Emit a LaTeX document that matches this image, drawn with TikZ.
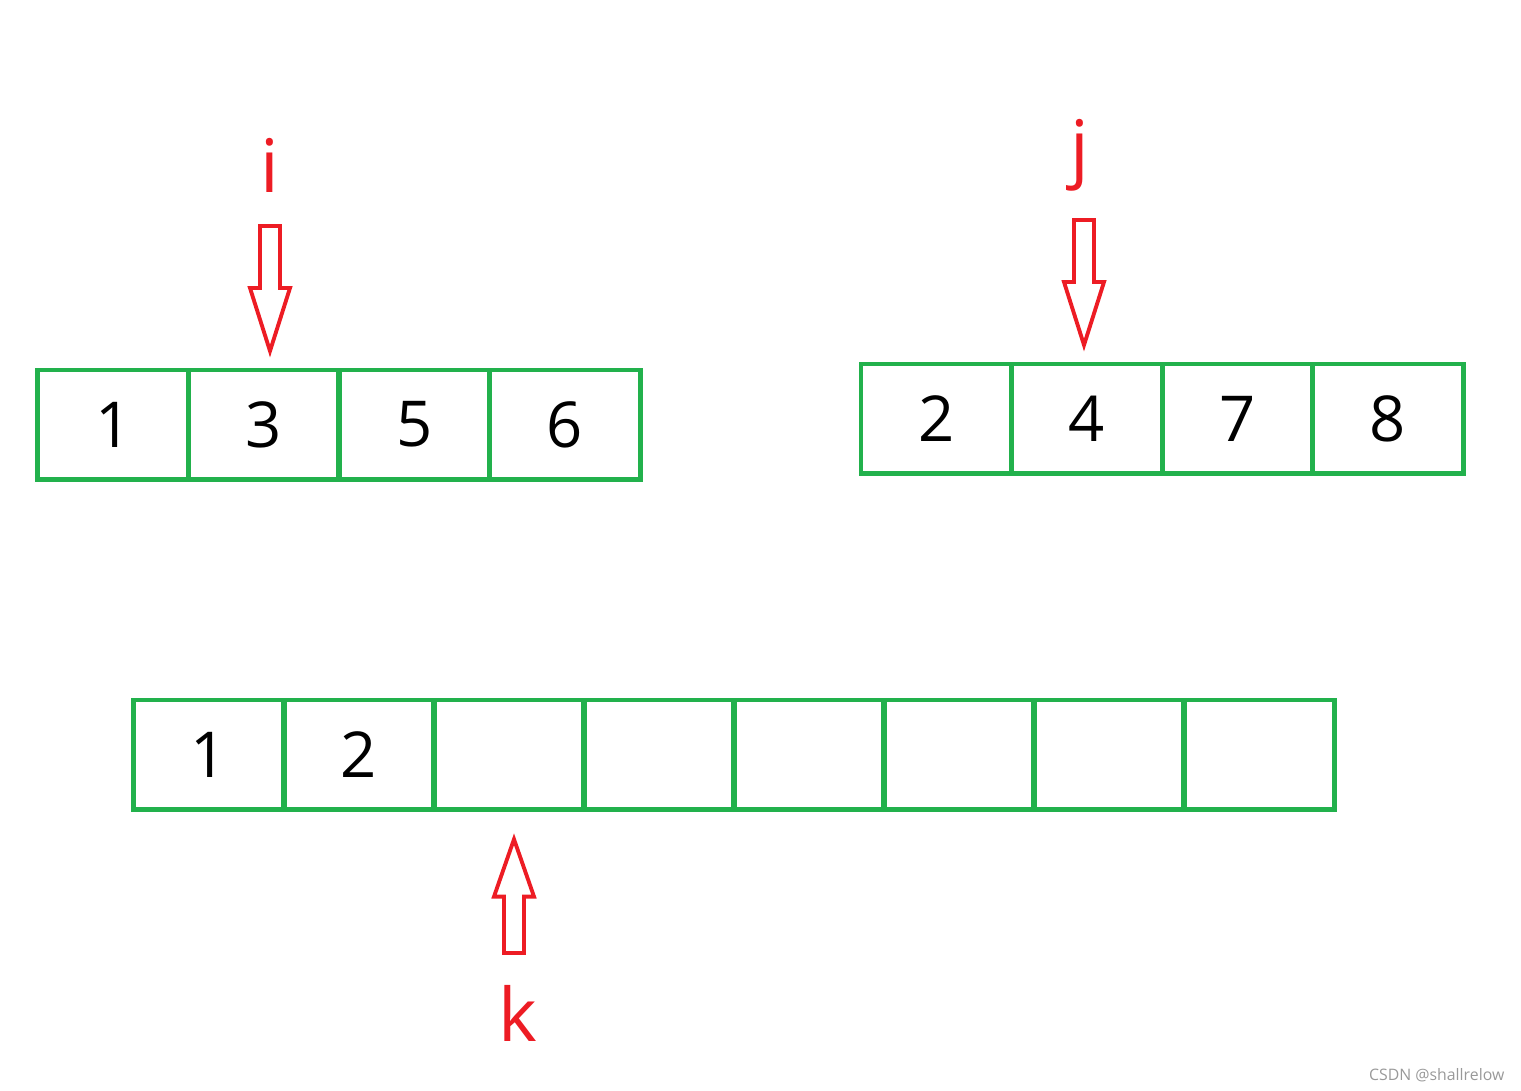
\documentclass[tikz,border=0pt]{standalone}
\usepackage{fontspec}
\setmainfont{Open Sans}
\definecolor{cellgreen}{HTML}{22B14C}
\definecolor{ptrred}{HTML}{ED1C24}
\tikzset{
  cell/.style={draw=cellgreen, line width=1.4pt, minimum width=1.505cm,
               minimum height=1.09cm, inner sep=0pt, font=\fontsize{18}{18}\selectfont},
  ptr/.style={draw=ptrred, line width=1.1pt, line join=miter},
  lbl/.style={text=ptrred, inner sep=0pt, font=\fontsize{21}{21}\selectfont},
  blockarrow/.pic={
    \draw[ptr] (-10,0) -- (10,0) -- (10,62) -- (20,62) -- (0,125)
               -- (-20,62) -- (-10,62) -- cycle;
  },
}
\begin{document}
\begin{tikzpicture}[x=0.01cm, y=-0.01cm]
\useasboundingbox (0,0) rectangle (1521,1090);

% first half
\node[cell] (a1) at (113.25,424.5) {1};
\node[cell] (a2) at (263.75,424.5) {3};
\node[cell] (a3) at (414.25,424.5) {5};
\node[cell] (a4) at (564.75,424.5) {6};

% second half
\node[cell] (b1) at (936.25,418.5) {2};
\node[cell] (b2) at (1086.75,418.5) {4};
\node[cell] (b3) at (1237.25,418.5) {7};
\node[cell] (b4) at (1387.75,418.5) {8};

% merged result
\node[cell] (c1) at (209,754.5) {1};
\node[cell] (c2) at (359,754.5) {2};
\node[cell] (c3) at (509,754.5) {};
\node[cell] (c4) at (659,754.5) {};
\node[cell] (c5) at (809,754.5) {};
\node[cell] (c6) at (959,754.5) {};
\node[cell] (c7) at (1109,754.5) {};
\node[cell] (c8) at (1259,754.5) {};

% pointers
\node[lbl] (li) at (270,165) {i};
\node[lbl] (lj) at (1080,155) {j};
\node[lbl] (lk) at (518,1013) {k};
\pic (pi) at (270,226) {blockarrow};
\pic (pj) at (1084,220) {blockarrow};
\pic[rotate=180, yscale=0.91] (pk) at (514,953) {blockarrow};

\node[text=black!40, font=\fontsize{4.5}{4.5}\selectfont, anchor=east, inner sep=0pt]
  (mark) at (1505,1075) {CSDN @shallrelow};
\end{tikzpicture}
\end{document}
